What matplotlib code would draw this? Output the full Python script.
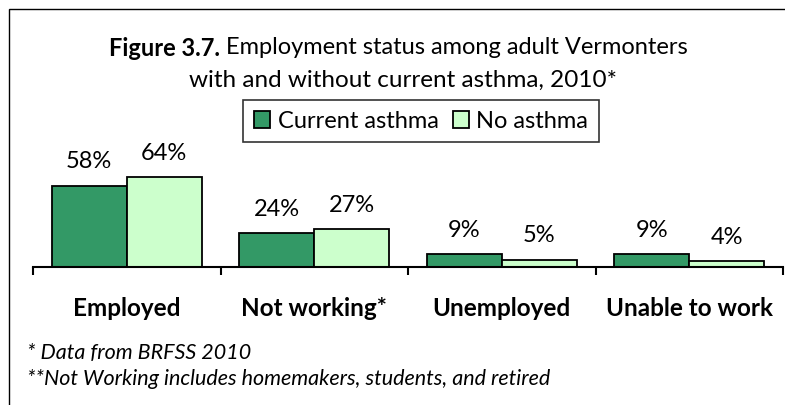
import numpy as np
import matplotlib
matplotlib.use('Agg')
from matplotlib import pyplot as plt
from matplotlib.patches import Rectangle

categories = ['Employed', 'Not working*', 'Unemployed', 'Unable to work']
current_asthma = [58, 24, 9, 9]
no_asthma = [64, 27, 5, 4]
series_names = ['Current asthma', 'No asthma']
colors = ['#339966', '#CCFFCC']

plt.rcParams['font.family'] = ['Lato', 'DejaVu Sans']

W, H = 785, 406
fig = plt.figure(figsize=(W / 100, H / 100), dpi=100)

# outer frame (only top and left edges visible in the crop)
fig.patches.append(Rectangle((8.5 / W, -0.1), 1.1, (H - 10) / H + 0.1,
                             transform=fig.transFigure, fill=False,
                             edgecolor='black', linewidth=1.0))

# axes: baseline at y=268px, 1.4 px per percent
ax = fig.add_axes([33 / W, (H - 268) / H, 750 / W, 98 / H])
x = np.arange(len(categories))
bw = 0.4
b1 = ax.bar(x - bw / 2, current_asthma, bw, color=colors[0], edgecolor='black',
            linewidth=1.3, label=series_names[0])
b2 = ax.bar(x + bw / 2, no_asthma, bw, color=colors[1], edgecolor='black',
            linewidth=1.3, label=series_names[1])

for bars, vals in [(b1, current_asthma), (b2, no_asthma)]:
    for rect, v in zip(bars, vals):
        ax.annotate('%d%%' % v, (rect.get_x() + rect.get_width() / 2, v),
                    xytext=(0, 18), textcoords='offset points',
                    ha='center', va='center', fontsize=17, annotation_clip=False)

ax.set_xlim(-0.5, len(categories) - 0.5)
ax.set_ylim(0, 70)
for s in ['top', 'right', 'left']:
    ax.spines[s].set_visible(False)
ax.spines['bottom'].set_linewidth(1.5)
ax.set_yticks([])
ax.set_xticks(np.arange(-0.5, len(categories)))
ax.set_xticklabels([])
ax.tick_params(axis='x', length=6, width=1.5, direction='out')
for xi, c in zip(x, categories):
    ax.text(xi, -28.6, c, ha='center', va='center', fontsize=17.5, fontweight='bold',
            clip_on=False)

# title, first line mixes bold and regular
fig.canvas.draw()
r = fig.canvas.get_renderer()
y1 = (H - 48) / H
tb = fig.text(0, y1, 'Figure 3.7. ', ha='left', va='center', fontsize=17, fontweight='bold')
tr = fig.text(0, y1, 'Employment status among adult Vermonters', ha='left', va='center',
              fontsize=17)
wb = tb.get_window_extent(r).width
wr = tr.get_window_extent(r).width
x0 = 398 - (wb + wr) / 2
tb.set_x(x0 / W)
tr.set_x((x0 + wb) / W)
fig.text(403 / W, (H - 80) / H, 'with and without current asthma, 2010*',
         ha='center', va='center', fontsize=17.5)

leg = fig.legend(handles=[b1, b2], loc='center', bbox_to_anchor=(421 / W, (H - 122) / H),
                 ncol=2, frameon=True, fontsize=17, handlelength=0.7, handleheight=0.7,
                 handletextpad=0.3, columnspacing=0.6, borderpad=0.45, fancybox=False,
                 borderaxespad=0)
leg.get_frame().set_edgecolor('black')
leg.get_frame().set_linewidth(1.2)

fig.text(27 / W, (H - 353) / H, '* Data from BRFSS 2010', ha='left', va='center',
         fontsize=15.5, style='italic')
fig.text(27 / W, (H - 379) / H, '**Not Working includes homemakers, students, and retired',
         ha='left', va='center', fontsize=15.5, style='italic')

fig.savefig('out.png', dpi=100)
